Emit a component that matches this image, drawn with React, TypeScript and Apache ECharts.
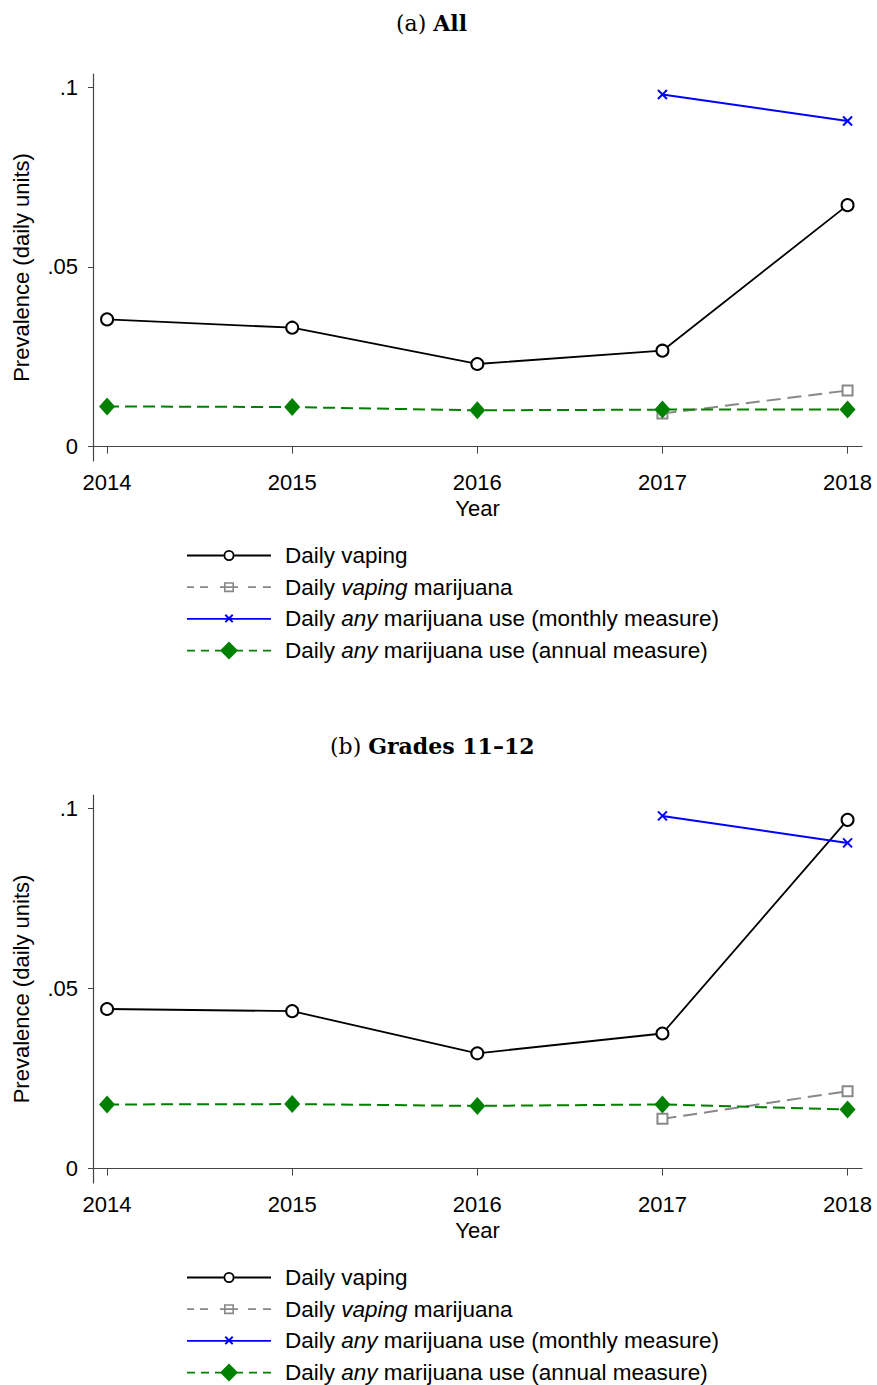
import React, { useEffect, useRef } from "react";
import * as echarts from "echarts";

// Survey years on the horizontal axis
const years = [2014, 2015, 2016, 2017, 2018];

// Panel (a): all students
const allVaping = [0.0354, 0.0331, 0.023, 0.0267, 0.0672];
const allVapingMarijuana = [null, null, null, 0.0092, 0.0156];
const allAnyMonthly = [null, null, null, 0.098, 0.0906];
const allAnyAnnual = [0.0112, 0.011, 0.0101, 0.0103, 0.0103];

// Panel (b): grades 11–12
const g1112Vaping = [0.0443, 0.0437, 0.032, 0.0375, 0.0968];
const g1112VapingMarijuana = [null, null, null, 0.0138, 0.0215];
const g1112AnyMonthly = [null, null, null, 0.0979, 0.0904];
const g1112AnyAnnual = [0.0178, 0.0179, 0.0174, 0.0178, 0.0164];

const yTicks = [0, 0.05, 0.1];
const seriesNames = [
  "Daily vaping",
  "Daily vaping marijuana",
  "Daily any marijuana use (monthly measure)",
  "Daily any marijuana use (annual measure)",
];
const legendLabels: Record<string, string> = {
  "Daily vaping": "Daily vaping",
  "Daily vaping marijuana": "Daily {i|vaping} marijuana",
  "Daily any marijuana use (monthly measure)": "Daily {i|any} marijuana use (monthly measure)",
  "Daily any marijuana use (annual measure)": "Daily {i|any} marijuana use (annual measure)",
};

const SANS = "Liberation Sans, Arial, Helvetica, sans-serif";
const SERIF = "DejaVu Serif, serif";
const AXIS = "#444";
const BLACK = "#000";
const GRAY = "#888";
const BLUE = "#0000ff";
const GREEN = "#008000";

// Legend keys drawn as filled outlines inside an 84 x 18 box
const BOX = "M0,0ZM84,18Z";
const seg = (a: number, b: number) => `M${a},8.1L${b},8.1L${b},9.9L${a},9.9Z`;
const keyVaping =
  "path://" +
  BOX +
  seg(0, 36.6) +
  seg(47.4, 84) +
  "M36.5,9A5.5,5.5 0 1,0 47.5,9A5.5,5.5 0 1,0 36.5,9Z" +
  "M38.3,9A3.7,3.7 0 1,1 45.7,9A3.7,3.7 0 1,1 38.3,9Z";
const keyVapingMj =
  "path://" +
  BOX +
  seg(0, 7) +
  seg(13, 21) +
  seg(33, 51) +
  seg(61, 69) +
  seg(76, 84) +
  "M37,4L47,4L47,14L37,14Z" +
  "M38.6,5.6L38.6,12.4L45.4,12.4L45.4,5.6Z";
const keyMonthly =
  "path://" +
  BOX +
  seg(0, 84) +
  "M37.6,5.5L39,4.1L46.4,11.5L45,12.9Z" +
  "M45,4.1L46.4,5.5L39,12.9L37.6,11.5Z";
const keyAnnual =
  "path://" +
  BOX +
  seg(0, 8) +
  seg(14, 22) +
  seg(28, 56) +
  seg(62, 70) +
  seg(76, 84) +
  "M42,0L51,9L42,18L33,9Z";

const legendKeys = [
  { icon: keyVaping, color: BLACK },
  { icon: keyVapingMj, color: GRAY },
  { icon: keyMonthly, color: BLUE },
  { icon: keyAnnual, color: GREEN },
];

const toPairs = (vals: (number | null)[]) =>
  years.map((y, i) => [y, vals[i]]).filter((p) => p[1] !== null);

const crossPath = "path://M0,0L10,10M10,0L0,10";

function buildSeries(idx: number, vaping: any[], vapMj: any[], monthly: any[], annual: any[]) {
  return [
    {
      name: seriesNames[0],
      type: "line",
      xAxisIndex: idx,
      yAxisIndex: idx,
      data: toPairs(vaping),
      symbol: "emptyCircle",
      symbolSize: 12,
      lineStyle: { color: BLACK, width: 1.8 },
      itemStyle: { color: BLACK, borderColor: BLACK, borderWidth: 2 },
    },
    {
      name: seriesNames[1],
      type: "line",
      xAxisIndex: idx,
      yAxisIndex: idx,
      data: toPairs(vapMj),
      symbol: "emptyRect",
      symbolSize: 10,
      lineStyle: { color: GRAY, width: 2, type: [14, 7] },
      itemStyle: { color: GRAY, borderColor: GRAY, borderWidth: 2 },
    },
    {
      name: seriesNames[2],
      type: "line",
      xAxisIndex: idx,
      yAxisIndex: idx,
      data: toPairs(monthly),
      symbol: crossPath,
      symbolSize: 9,
      lineStyle: { color: BLUE, width: 2 },
      itemStyle: { color: BLUE, borderColor: BLUE, borderWidth: 2 },
    },
    {
      name: seriesNames[3],
      type: "line",
      xAxisIndex: idx,
      yAxisIndex: idx,
      data: toPairs(annual),
      symbol: "diamond",
      symbolSize: [16, 18],
      lineStyle: { color: GREEN, width: 2, type: [12, 6] },
      itemStyle: { color: GREEN, borderWidth: 0 },
    },
  ];
}

function xAxisFor(idx: number) {
  return {
    type: "value",
    gridIndex: idx,
    min: 2013.924,
    max: 2018.078,
    name: "Year",
    nameLocation: "middle",
    nameGap: 36,
    nameTextStyle: { fontFamily: SANS, fontSize: 22, color: "#000" },
    axisLine: { show: true, lineStyle: { color: AXIS, width: 1.2 } },
    axisTick: { show: true, length: 7, customValues: years, lineStyle: { color: AXIS } },
    axisLabel: {
      customValues: years,
      margin: 10,
      fontFamily: SANS,
      fontSize: 22,
      color: "#000",
      formatter: (v: number) => String(v),
    },
    splitLine: { show: false },
  };
}

function yAxisFor(idx: number) {
  return {
    type: "value",
    gridIndex: idx,
    min: -0.004,
    max: 0.1037,
    name: "Prevalence (daily units)",
    nameLocation: "middle",
    nameGap: 61,
    nameTextStyle: { fontFamily: SANS, fontSize: 22, color: "#000" },
    axisLine: { show: true, lineStyle: { color: AXIS, width: 1.2 } },
    axisTick: { show: true, length: 5, customValues: yTicks, lineStyle: { color: AXIS } },
    axisLabel: {
      customValues: yTicks,
      margin: 15,
      fontFamily: SANS,
      fontSize: 22,
      color: "#000",
      formatter: (v: number) => (v === 0 ? "0" : String(v).replace(/^0/, "")),
    },
    splitLine: { show: false },
  };
}

function legendFor(top: number) {
  return {
    orient: "vertical",
    left: 187,
    top,
    padding: 0,
    data: seriesNames.map((name, i) => ({
      name,
      icon: legendKeys[i].icon,
      itemStyle: { color: legendKeys[i].color, borderWidth: 0 },
    })),
    itemWidth: 84,
    itemHeight: 18,
    itemGap: 8.7,
    selectedMode: false,
    formatter: (name: string) => legendLabels[name],
    textStyle: {
      fontFamily: SANS,
      fontSize: 22.5,
      color: "#000",
      lineHeight: 22,
      padding: [0, 0, 0, 9],
      rich: {
        i: { fontFamily: SANS, fontSize: 22.5, fontStyle: "italic", color: "#000", lineHeight: 22 },
      },
    },
  };
}

function panelTitle(text: string, left: number, top: number) {
  return {
    text,
    left,
    top,
    textStyle: {
      fontFamily: SERIF,
      fontSize: 22,
      fontWeight: "normal",
      color: "#000",
      rich: { b: { fontFamily: SERIF, fontSize: 22, fontWeight: "bold", color: "#000" } },
    },
  };
}

export default function App() {
  const ref = useRef<HTMLDivElement>(null);

  useEffect(() => {
    document.body.style.margin = "0";
    if (!ref.current) return;
    const chart = echarts.init(ref.current, null, { renderer: "svg" });
    chart.setOption({
      animation: false,
      backgroundColor: "#fff",
      title: [panelTitle("(a) {b|All}", 391, 7), panelTitle("(b) {b|Grades 11–12}", 325, 730)],
      legend: [legendFor(544), legendFor(1266)],
      grid: [
        { left: 93, top: 74, width: 769, height: 387 },
        { left: 93, top: 795, width: 769, height: 388 },
      ],
      xAxis: [xAxisFor(0), xAxisFor(1)],
      yAxis: [yAxisFor(0), yAxisFor(1)],
      series: [
        ...buildSeries(0, allVaping, allVapingMarijuana, allAnyMonthly, allAnyAnnual),
        ...buildSeries(1, g1112Vaping, g1112VapingMarijuana, g1112AnyMonthly, g1112AnyAnnual),
      ],
    });
    return () => chart.dispose();
  }, []);

  return <div ref={ref} style={{ width: 877, height: 1385 }} />;
}
